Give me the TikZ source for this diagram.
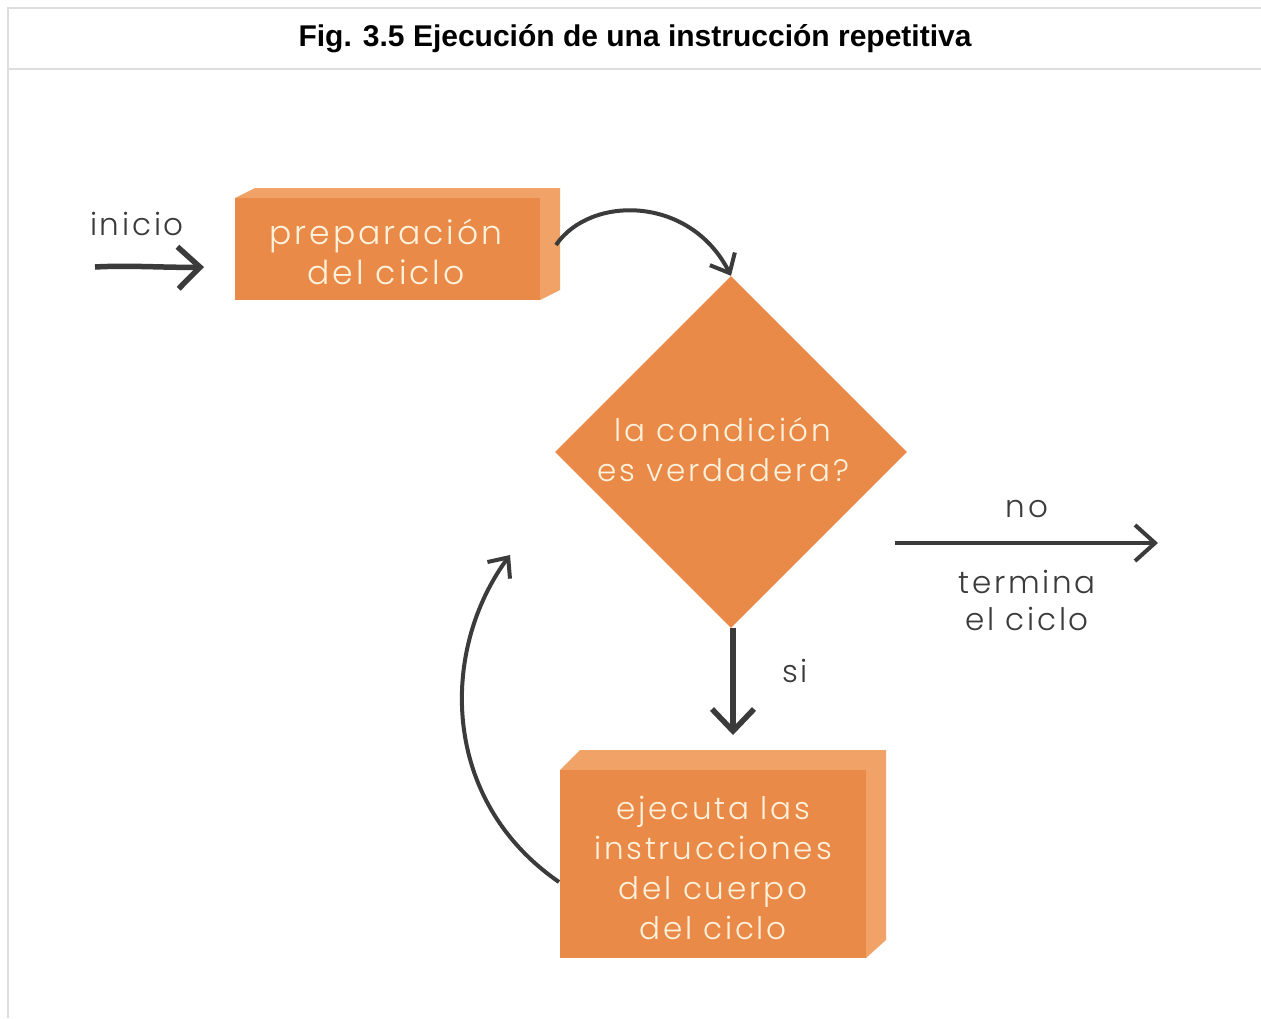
\documentclass[tikz,border=0pt]{standalone}
\usepackage{fontspec}
\setmainfont{Liberation Sans}
\newfontfamily\hand{Poppins Light}[LetterSpace=9]
\usetikzlibrary{arrows.meta,shapes.geometric}
\definecolor{frontor}{HTML}{E98A48}
\definecolor{sideor}{HTML}{F0A267}
\definecolor{boxtxt}{HTML}{FFF2DC}
\definecolor{arr}{HTML}{3B3B3B}
\definecolor{frame}{HTML}{DDDDDD}
\begin{document}
\begin{tikzpicture}[x=1pt,y=-1pt,
  facefront/.style={fill=frontor,draw=none},
  faceside/.style={fill=sideor,draw=none},
  boxtext/.style={text=boxtxt,font=\hand\fontsize{31}{40}\selectfont,align=center,inner sep=0pt},
  lbl/.style={text=arr,font=\hand\fontsize{31}{37}\selectfont,align=center,inner sep=0pt},
  thickarrow/.style={draw=arr,line width=5.5pt,-{Straight Barb[length=22pt,width=42pt,line width=5.5pt]}},
  thinarrow/.style={draw=arr,line width=4pt,-{Straight Barb[length=16pt,width=28pt,line width=4pt]}}
]
\useasboundingbox (0,0) rectangle (1261,1018);
\fill[white] (0,0) rectangle (1261,1018);
% frame
\draw[frame,line width=2pt] (1261,8) -- (8,8) -- (8,1018);
\draw[frame,line width=2pt] (8,69) -- (1261,69);
\node (title) at (635,39) {\fontsize{30}{34}\selectfont\bfseries Fig. 3.5 Ejecución de una instrucción repetitiva};
% box 1
\fill[faceside] (235,198) -- (255,188) -- (560,188) -- (560,290) -- (540,300) -- (540,198) -- cycle;
\node[facefront,minimum width=305pt,minimum height=102pt,inner sep=0pt] (prep) at (387.5,249) {};
\node[boxtext,font=\hand\fontsize{33}{40}\selectfont] (preptxt) at (386,252) {preparación\\del ciclo};
% diamond
\node[diamond,fill=frontor,minimum width=352pt,minimum height=352pt,inner sep=0pt] (cond) at (731,452) {};
\node[boxtext] (condtxt) at (723,450) {la condición\\es verdadera?};
% box 2
\fill[faceside] (560,770) -- (580,750) -- (886,750) -- (886,940) -- (866,958) -- (866,770) -- cycle;
\node[facefront,minimum width=306pt,minimum height=188pt,inner sep=0pt] (body) at (713,864) {};
\node[boxtext] (bodytxt) at (713,868) {ejecuta las\\instrucciones\\del cuerpo\\del ciclo};
% labels
\node[lbl] (inicio) at (137,224) {inicio};
\node[lbl] (no) at (1027,509) {no};
\node[lbl] (termina) at (1027,600) {termina\\el ciclo};
\node[lbl] (si) at (795,671) {si};
% coordinates
\coordinate (inA) at (95,267);
\coordinate (inB) at (204,267);
\coordinate (c1a) at (556,245);
\coordinate (noA) at (895,543);
\coordinate (noB) at (1158,543);
\coordinate (siA) at (733,628);
\coordinate (siB) at (733,735);
\coordinate (lpA) at (559,882);
\coordinate (lpB) at (510,555);
% arrows
\draw[thickarrow] (inA) .. controls (130,265) and (170,268) .. (inB);
\draw[thinarrow] (c1a) .. controls (590,195) and (690,195) .. (cond.north);
\draw[draw=arr,line width=4pt,-{Straight Barb[length=20pt,width=36pt,line width=4pt]}] (noA) -- (noB);
\draw[thickarrow] (siA) -- (siB);
\draw[thinarrow] (lpA) .. controls (440,800) and (440,650) .. (lpB);
\end{tikzpicture}
\end{document}
